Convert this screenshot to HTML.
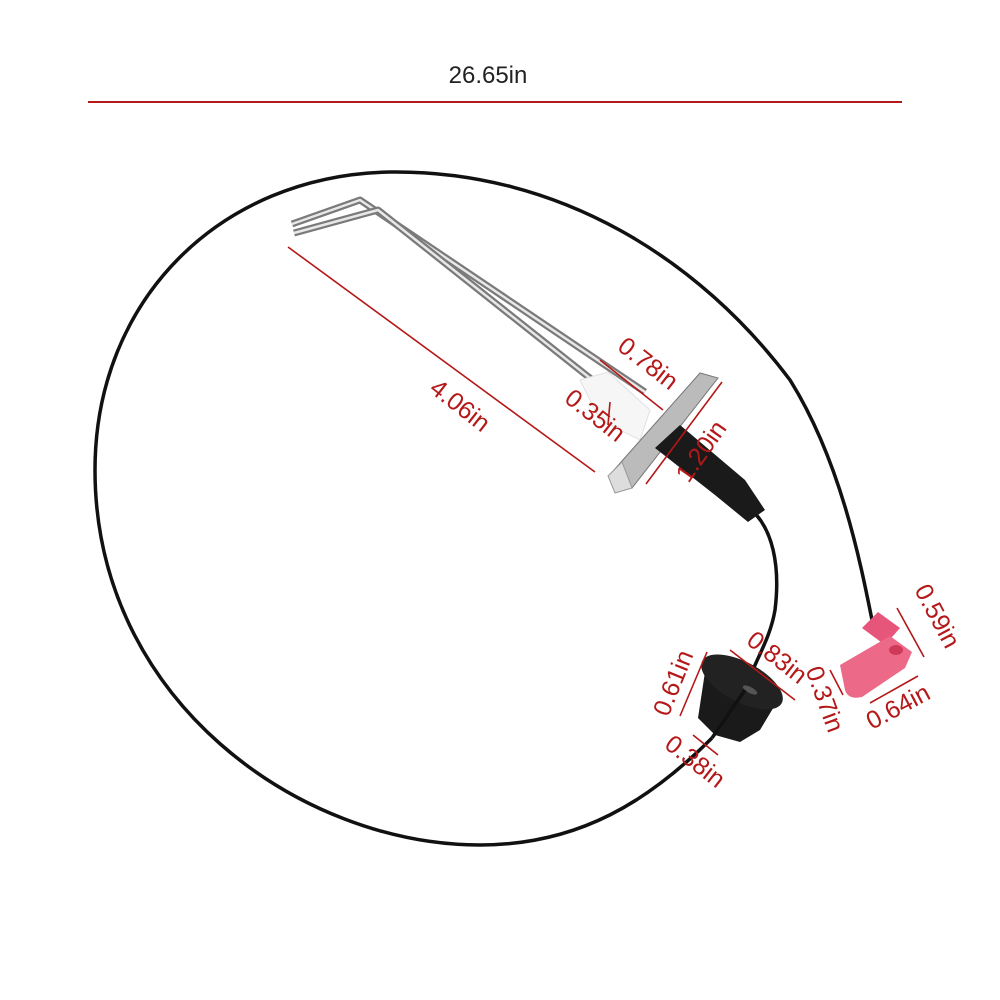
<!DOCTYPE html>
<html><head><meta charset="utf-8"><style>
html,body{margin:0;padding:0;background:#fff;width:1000px;height:1000px;overflow:hidden}
text{font-family:"Liberation Sans",sans-serif;fill:#b51818}
</style></head><body>
<svg width="1000" height="1000" viewBox="0 0 1000 1000" xmlns="http://www.w3.org/2000/svg">
<rect width="1000" height="1000" fill="#fff"/>
<text x="488" y="83" font-size="24" text-anchor="middle" style="fill:#222">26.65in</text>
<line x1="88" y1="102" x2="902" y2="102" stroke="#b51818" stroke-width="2"/>

<path d="M712,738 C650,800 580,845 480,845 C300,845 95,700 95,470 C95,300 220,175 390,172 C560,170 700,260 790,380 C840,460 860,560 872,620" fill="none" stroke="#111" stroke-width="3.5"/>
<path d="M745,505 C775,525 780,570 775,610 C770,640 755,660 745,690" fill="none" stroke="#111" stroke-width="3.5"/>

<!-- electrode rods -->
<path d="M292,224 L360,200 L645,392" fill="none" stroke="#7a7a7a" stroke-width="7" stroke-linejoin="round"/>
<path d="M292,224 L360,200 L645,392" fill="none" stroke="#e8e8e8" stroke-width="2.5" stroke-linejoin="round"/>
<path d="M294,233 L378,210 L605,390" fill="none" stroke="#7a7a7a" stroke-width="7" stroke-linejoin="round"/>
<path d="M294,233 L378,210 L605,390" fill="none" stroke="#e8e8e8" stroke-width="2.5" stroke-linejoin="round"/>
<polygon points="580,380 608,372 650,410 640,440 600,420" fill="#f6f6f6" stroke="#e0e0e0"/>
<polygon points="614,470 700,373 718,378 632,488" fill="#bbb" stroke="#777"/>
<polygon points="608,476 622,462 632,488 615,493" fill="#ddd" stroke="#999"/>
<polygon points="655,448 680,425 745,480 765,510 748,522 715,495" fill="#1a1a1a"/>

<!-- grommet -->
<path d="M705,672 L778,700 L760,730 L740,742 L715,735 L698,718 Z" fill="#1a1a1a"/>
<ellipse cx="742" cy="682" rx="45" ry="20" transform="rotate(28 742 682)" fill="#222"/>
<ellipse cx="750" cy="690" rx="8" ry="3" transform="rotate(28 750 690)" fill="#555"/>
<path d="M712,738 L745,690" stroke="#111" stroke-width="3.5"/>

<!-- red connector -->
<polygon points="862,628 878,612 900,628 885,645" fill="#e6557a"/>
<path d="M840,665 L890,636 L912,652 L905,668 L862,697 Q848,700 845,690 Z" fill="#ec6a88"/>
<ellipse cx="896" cy="650" rx="7" ry="5" fill="#d03a5a"/>

<g stroke="#b51818" stroke-width="1.6">
<line x1="288" y1="247" x2="595" y2="472"/>
<line x1="600" y1="360" x2="663" y2="410"/>
<line x1="610" y1="402" x2="608" y2="425"/>
<line x1="646" y1="484" x2="722" y2="382"/>
<line x1="707" y1="652" x2="680" y2="716"/>
<line x1="730" y1="650" x2="795" y2="700"/>
<line x1="693" y1="735" x2="718" y2="755"/>
<line x1="830" y1="670" x2="843" y2="695"/>
<line x1="897" y1="608" x2="924" y2="657"/>
<line x1="870" y1="703" x2="918" y2="676"/>
</g>

<text x="455" y="412" font-size="25" transform="rotate(38 455 412)" text-anchor="middle">4.06in</text>
<text x="643" y="370" font-size="25" transform="rotate(38 643 370)" text-anchor="middle">0.78in</text>
<text x="590" y="422" font-size="25" transform="rotate(38 590 422)" text-anchor="middle">0.35in</text>
<text x="708" y="456" font-size="25" transform="rotate(-55 708 456)" text-anchor="middle">1.20in</text>
<text x="681" y="686" font-size="25" transform="rotate(-68 681 686)" text-anchor="middle">0.61in</text>
<text x="772" y="664" font-size="25" transform="rotate(38 772 664)" text-anchor="middle">0.83in</text>
<text x="690" y="768" font-size="25" transform="rotate(38 690 768)" text-anchor="middle">0.38in</text>
<text x="817" y="702" font-size="25" transform="rotate(70 817 702)" text-anchor="middle">0.37in</text>
<text x="930" y="620" font-size="25" transform="rotate(62 930 620)" text-anchor="middle">0.59in</text>
<text x="902" y="714" font-size="25" transform="rotate(-28 902 714)" text-anchor="middle">0.64in</text>
</svg>
</body></html>
